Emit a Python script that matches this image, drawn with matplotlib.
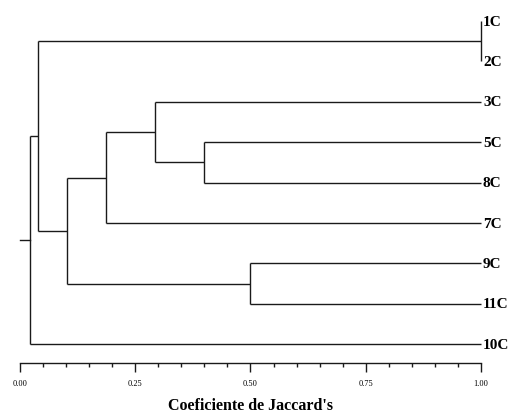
import matplotlib
matplotlib.use("Agg")
import matplotlib.pyplot as plt
import numpy as np

# Leaves (top to bottom)
leaves = ['1C', '2C', '3C', '5C', '8C', '7C', '9C', '11C', '10C']
# Merges: new cluster ids start at len(leaves)
merge_left = [0, 3, 2, 11, 6, 12, 9, 15]
merge_right = [1, 4, 10, 5, 7, 13, 14, 8]
merge_coef = [1.00, 0.40, 0.292, 0.187, 0.50, 0.103, 0.040, 0.022]
tick_major = [0.00, 0.25, 0.50, 0.75, 1.00]
tick_labels = ['0.00', '0.25', '0.50', '0.75', '1.00']

W, H = 510, 414
fig = plt.figure(figsize=(W / 100, H / 100), dpi=100)
# axes: x 0->px 20, 1->px 481 ; bottom spine at px 364 from top
ax = fig.add_axes([20 / W, (H - 364) / H, 461 / W, 364 / H])
ax.set_xlim(0, 1)
ax.set_ylim(8.465, -0.545)

lc = '#1a1a1a'
lw = 1.0
n = len(leaves)
xpos = {i: 1.0 for i in range(n)}
ypos = {i: float(i) for i in range(n)}
for k, (a, b, c) in enumerate(zip(merge_left, merge_right, merge_coef)):
    nid = n + k
    ya, yb = ypos[a], ypos[b]
    ax.plot([c, xpos[a]], [ya, ya], color=lc, lw=lw, solid_capstyle='butt', clip_on=False)
    ax.plot([c, xpos[b]], [yb, yb], color=lc, lw=lw, solid_capstyle='butt', clip_on=False)
    ax.plot([c, c], [ya, yb], color=lc, lw=lw, solid_capstyle='butt', clip_on=False)
    xpos[nid] = c
    ypos[nid] = (ya + yb) / 2
root = n + len(merge_coef) - 1
ax.plot([0, xpos[root]], [ypos[root], ypos[root]], color=lc, lw=lw, clip_on=False)

for i, name in enumerate(leaves):
    ax.text(1.0 + 2 / 461, i, name, ha='left', va='center',
            fontsize=11, fontweight='bold', family='Liberation Serif',
            clip_on=False)

for s in ['left', 'top', 'right']:
    ax.spines[s].set_visible(False)
ax.spines['bottom'].set_color(lc)
ax.spines['bottom'].set_linewidth(lw)
ax.set_yticks([])
ax.set_xticks(tick_major)
ax.set_xticklabels(tick_labels, family='Liberation Serif', fontsize=6)
ax.set_xticks(np.arange(0, 1.0001, 0.05), minor=True)
ax.tick_params(axis='x', which='major', direction='out', length=6.5, width=lw, color=lc, pad=5)
ax.tick_params(axis='x', which='minor', direction='out', length=3, width=lw, color=lc)
ax.set_xlabel("Coeficiente de Jaccard's", family='Liberation Serif',
              fontsize=11.5, fontweight='bold', labelpad=7)

fig.savefig('out.png', dpi=100)
